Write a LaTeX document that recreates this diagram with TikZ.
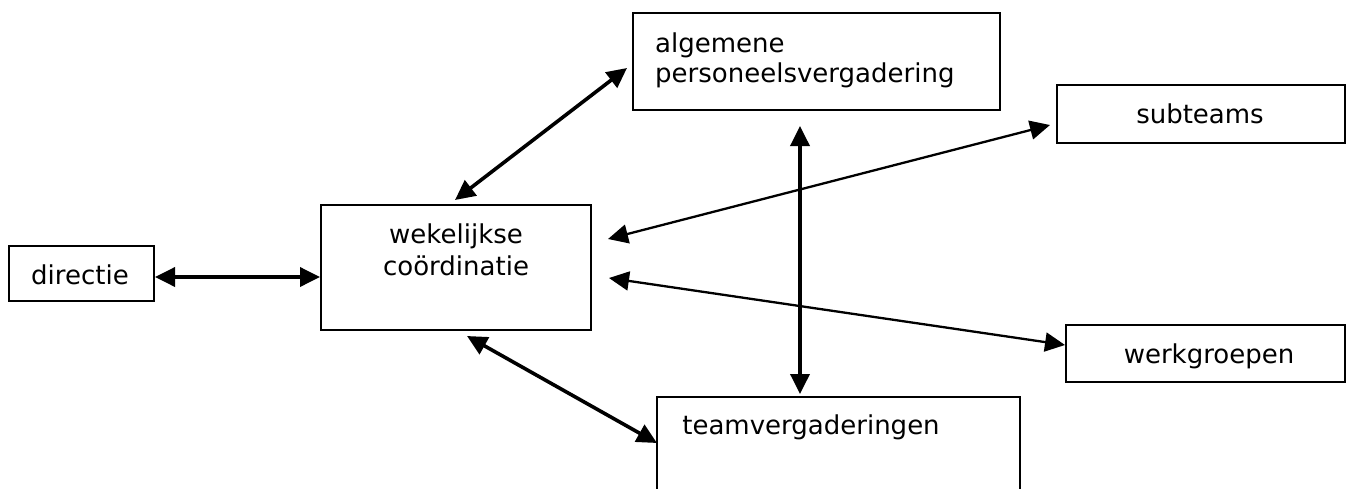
\documentclass[tikz,border=0pt]{standalone}
\usepackage{fontspec}
\setmainfont{DejaVu Sans}
\usetikzlibrary{arrows.meta}
\begin{document}
\begin{tikzpicture}[x=1pt,y=-1pt,
  box/.style={draw, line width=2.2pt, inner sep=0pt},
  lbl/.style={font=\fontsize{26}{30}\selectfont, inner sep=0pt, anchor=base},
  lblc/.style={lbl},
  lbll/.style={lbl, anchor=base west},
  >={Triangle[length=20pt 0,width=19pt 0]},
  thickconn/.style={line width=3.6pt, <->},
  thinconn/.style={line width=2.3pt, <->}]
\useasboundingbox (0,0) rectangle (1346,488);
\clip (0,0) rectangle (1346,488);
% boxes
\node[box, minimum width=145pt, minimum height=55pt] (dir) at (81.5,273.5) {};
\node[box, minimum width=270pt, minimum height=125pt] (wek) at (456,267.5) {};
\node[box, minimum width=367pt, minimum height=97pt] (alg) at (816.5,61.5) {};
\node[box, minimum width=288pt, minimum height=58pt] (sub) at (1201,114) {};
\node[box, minimum width=279pt, minimum height=57pt] (wer) at (1205.5,353.5) {};
\node[box, minimum width=363pt, minimum height=113pt] (tea) at (838.5,453.5) {};
% texts
\node[lblc] (tdir) at (80,284) {directie};
\node[lblc] (twek1) at (456,243) {wekelijkse};
\node[lblc] (twek2) at (456,275) {coördinatie};
\node[lbll] (talg1) at (655,52) {algemene};
\node[lbll] (talg2) at (655,82) {personeelsvergadering};
\node[lblc] (tsub) at (1200,123) {subteams};
\node[lblc] (twer) at (1209,363) {werkgroepen};
\node[lblc] (ttea) at (811,434) {teamvergaderingen};
% connector ends
\coordinate (c1a) at (155,277); \coordinate (c1b) at (320,277);
\coordinate (c2a) at (455,200); \coordinate (c2b) at (627,68);
\coordinate (c3a) at (608,239); \coordinate (c3b) at (1050,125);
\coordinate (c4a) at (609,278); \coordinate (c4b) at (1065,345);
\coordinate (c5a) at (467,336); \coordinate (c5b) at (657,443);
\coordinate (c6a) at (800,126); \coordinate (c6b) at (800,394);
% connectors
\draw[thickconn] (c1a) -- (c1b);
\draw[thickconn] (c2a) -- (c2b);
\draw[thinconn] (c3a) -- (c3b);
\draw[thinconn] (c4a) -- (c4b);
\draw[thickconn] (c5a) -- (c5b);
\draw[thickconn] (c6a) -- (c6b);
\end{tikzpicture}
\end{document}
